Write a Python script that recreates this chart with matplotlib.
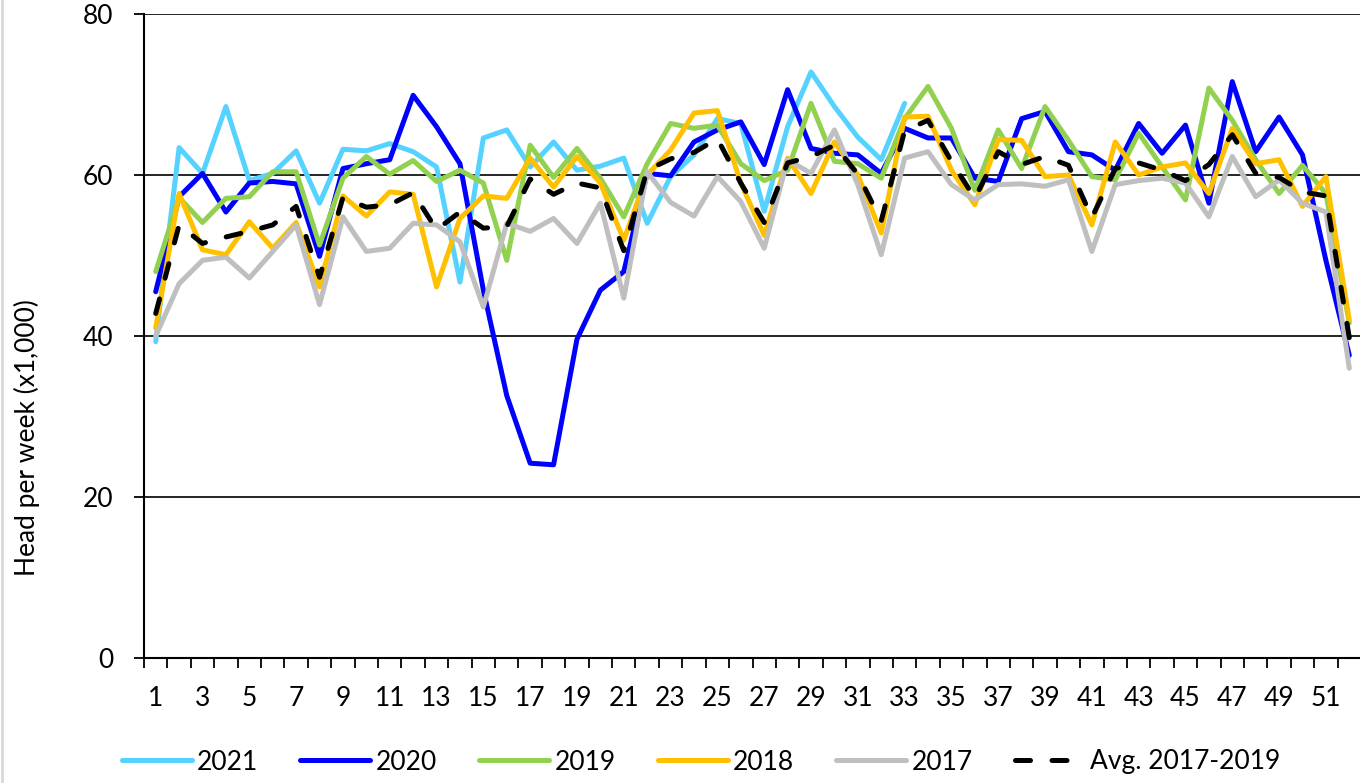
import numpy as np
import matplotlib
matplotlib.use("Agg")
import matplotlib.pyplot as plt
from matplotlib.lines import Line2D

plt.rcParams['font.family'] = ['Lato', 'DejaVu Sans']

weeks = np.arange(1, 53)

y2021 = [39.3, 63.4, 60.2, 68.5, 59.3, 60.2, 63.0, 56.5, 63.2, 63.0,
         63.9, 62.9, 61.0, 46.7, 64.6, 65.6, 61.0, 64.1, 60.6, 61.1,
         62.1, 54.0, 59.8, 62.5, 67.0, 66.4, 55.5, 66.0, 72.8, 68.5,
         64.7, 61.9, 68.9]
y2020 = [45.5, 57.3, 60.2, 55.4, 59.0, 59.2, 58.9, 49.9, 60.8, 61.4,
         61.9, 69.9, 66.0, 61.4, 45.7, 32.6, 24.2, 24.0, 39.6, 45.7,
         48.0, 60.2, 59.9, 64.1, 65.6, 66.6, 61.3, 70.6, 63.3, 62.7,
         62.5, 60.2, 65.8, 64.6, 64.6, 59.6, 59.2, 67.0, 67.9, 62.9,
         62.5, 60.6, 66.4, 62.7, 66.2, 56.5, 71.6, 62.9, 67.2, 62.5,
         49.4, 37.6]
y2019 = [48.0, 57.2, 54.1, 57.1, 57.3, 60.4, 60.4, 51.3, 59.6, 62.3,
         60.1, 61.8, 59.2, 60.6, 59.0, 49.4, 63.7, 59.7, 63.3, 59.6,
         54.8, 61.4, 66.4, 65.8, 66.2, 61.4, 59.3, 60.6, 68.9, 61.7,
         61.4, 59.6, 67.0, 71.0, 65.8, 58.1, 65.6, 60.8, 68.5, 64.3,
         59.8, 59.4, 65.2, 61.0, 56.9, 70.8, 66.8, 61.9, 57.7, 61.2,
         57.7, 41.6]
y2018 = [41.0, 57.7, 50.7, 50.1, 54.2, 50.9, 54.1, 46.1, 57.4, 54.9,
         57.9, 57.6, 46.1, 54.6, 57.4, 57.1, 62.1, 58.5, 62.3, 59.0,
         51.9, 60.0, 63.1, 67.7, 68.0, 59.0, 52.5, 62.1, 57.7, 64.1,
         60.0, 52.8, 67.2, 67.3, 60.6, 56.3, 64.4, 64.3, 59.8, 60.0,
         53.8, 64.1, 60.0, 61.0, 61.5, 57.7, 65.8, 61.4, 61.9, 56.1,
         59.8, 42.0]
y2017 = [40.0, 46.5, 49.4, 49.8, 47.2, 50.5, 53.8, 43.9, 54.8, 50.5,
         50.9, 54.0, 53.8, 51.7, 43.6, 54.0, 53.0, 54.6, 51.5, 56.5,
         44.7, 60.4, 56.6, 54.9, 59.8, 56.7, 50.9, 61.9, 60.2, 65.6,
         58.8, 50.1, 62.1, 62.9, 58.8, 56.9, 58.8, 58.9, 58.6, 59.4,
         50.5, 58.8, 59.3, 59.6, 59.0, 54.8, 62.3, 57.3, 59.4, 56.5,
         55.4, 36.0]
avg = [42.8, 53.8, 51.5, 52.3, 53.0, 53.8, 56.1, 47.3, 57.2, 56.0,
       56.3, 57.8, 53.2, 55.4, 53.4, 53.6, 59.5, 57.6, 59.0, 58.4,
       50.6, 60.6, 62.0, 62.8, 64.5, 59.0, 54.1, 61.5, 62.3, 63.7,
       60.1, 54.3, 65.5, 66.8, 61.7, 57.1, 62.9, 61.3, 62.3, 61.2,
       54.7, 60.8, 61.5, 60.6, 59.3, 61.3, 65.0, 60.2, 59.7, 57.9,
       57.4, 39.8]

series = [("2021", y2021, "#55d2ff"),
          ("2020", y2020, "#0000ff"),
          ("2019", y2019, "#92d050"),
          ("2018", y2018, "#ffc000"),
          ("2017", y2017, "#bfbfbf")]

fig = plt.figure(figsize=(13.6, 7.83), dpi=100)
ax = fig.add_axes([144/1360, 1 - 658/783, 1217/1360, 644/783])

lw = 3.6
for i, (name, vals, col) in enumerate(series):
    ax.plot(weeks[:len(vals)], vals, color=col, lw=lw, label=name,
            solid_joinstyle='round', solid_capstyle='round', zorder=3 + i)
ax.plot(weeks, avg, color='black', lw=lw, dashes=(3.0, 4.3),
        dash_capstyle='round', dash_joinstyle='round',
        label="Avg. 2017-2019", zorder=10)

ax.set_xlim(0.5, 52.5)
ax.set_ylim(0, 80)
ax.set_yticks([0, 20, 40, 60, 80])
ax.set_xticks(np.arange(1, 52, 2))
ax.set_xticks(np.arange(0.5, 53, 1), minor=True)
ax.tick_params(axis='x', which='major', length=0, pad=20, labelsize=19)
ax.tick_params(axis='x', which='minor', length=7, width=1.3, direction='out')
ax.tick_params(axis='y', length=7, width=1.3, pad=15, labelsize=19)

ax.grid(axis='y', color='black', lw=1.2, zorder=1)
ax.set_axisbelow(True)
for s in ['top', 'right']:
    ax.spines[s].set_visible(False)
for s in ['left', 'bottom']:
    ax.spines[s].set_linewidth(1.5)
    ax.spines[s].set_zorder(2)

ax.set_ylabel("Head per week (x1,000)", fontsize=19)
ax.yaxis.set_label_coords((40 - 144) / 1217, (658 - 438) / 644)

fig.legend(loc='center', bbox_to_anchor=(701/1360, 1 - 762/783), ncol=6,
           frameon=False, fontsize=19, handlelength=2.65,
           handletextpad=0.2, columnspacing=1.6)

fig.add_artist(Line2D([0.0015, 0.0015], [0, 1], color='#d9d9d9', lw=2,
                      transform=fig.transFigure))

fig.savefig("out.png", dpi=100)
